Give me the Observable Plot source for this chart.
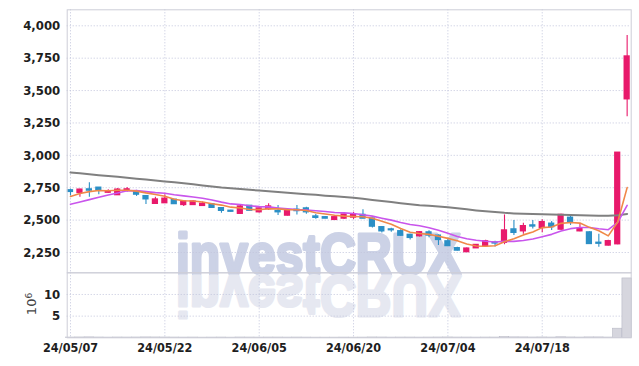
<!DOCTYPE html>
<html><head><meta charset="utf-8">
<script src="https://cdn.jsdelivr.net/npm/d3@7"></script>
<script src="https://cdn.jsdelivr.net/npm/@observablehq/plot@0.6"></script>
<style>
html,body{margin:0;padding:0;background:#fff;}
#wrap{position:relative;width:639px;height:366px;overflow:hidden;}
#wrap svg{position:absolute;left:0;top:0;}
</style></head><body><div id="wrap"></div>
<script>
const dates = ["24/05/07","24/05/08","24/05/09","24/05/10","24/05/13","24/05/14","24/05/16","24/05/17","24/05/20","24/05/21",
"24/05/22","24/05/23","24/05/24","24/05/27","24/05/28","24/05/29","24/05/30","24/05/31","24/06/03","24/06/04",
"24/06/05","24/06/07","24/06/10","24/06/11","24/06/12","24/06/13","24/06/14","24/06/17","24/06/18","24/06/19",
"24/06/20","24/06/21","24/06/24","24/06/25","24/06/26","24/06/27","24/06/28","24/07/01","24/07/02","24/07/03",
"24/07/04","24/07/05","24/07/08","24/07/09","24/07/10","24/07/11","24/07/12","24/07/15","24/07/16","24/07/17",
"24/07/18","24/07/19","24/07/22","24/07/23","24/07/24","24/07/25","24/07/26","24/07/29","24/07/30","24/07/31"];
const open = [2730,2710,2737,2750,2712,2693,2728,2722,2685,2626,
2631,2657,2617,2617,2610,2622,2592,2572,2549,2610,
2561,2585,2570,2535,2580,2590,2528,2522,2502,2512,
2520,2540,2512,2445,2428,2414,2386,2376,2405,2380,
2336,2283,2253,2283,2300,2327,2325,2428,2414,2459,
2440,2472,2427,2518,2414,2405,2325,2304,2314,3433];
const high = [2740,2738,2788,2752,2735,2745,2752,2730,2690,2676,
2695,2660,2648,2650,2640,2628,2595,2576,2612,2612,
2595,2626,2613,2580,2613,2600,2544,2526,2522,2548,
2560,2580,2515,2450,2437,2425,2390,2410,2418,2385,
2360,2290,2285,2312,2345,2336,2540,2497,2475,2497,
2503,2490,2545,2540,2472,2410,2390,2345,3020,3925];
const low = [2687,2676,2676,2695,2708,2690,2716,2683,2620,2624,
2628,2620,2605,2612,2608,2592,2553,2560,2546,2570,
2555,2574,2535,2532,2540,2545,2507,2510,2502,2505,
2505,2510,2440,2400,2406,2375,2347,2370,2363,2304,
2298,2262,2250,2280,2290,2292,2310,2381,2390,2432,
2402,2420,2420,2459,2410,2314,2290,2300,2310,3297];
const close = [2718,2735,2728,2730,2722,2735,2737,2697,2661,2659,
2665,2624,2643,2643,2626,2595,2572,2565,2605,2573,
2590,2605,2561,2574,2570,2561,2518,2512,2522,2543,
2543,2512,2450,2414,2422,2380,2363,2406,2381,2347,
2300,2265,2280,2308,2336,2320,2420,2402,2453,2451,
2484,2446,2540,2484,2433,2316,2318,2337,3020,3763];
// volume in millions of shares
const volume = [0.06,0.08,0.10,0.07,0.05,0.07,0.06,0.07,0.09,0.08,
0.07,0.06,0.05,0.06,0.04,0.05,0.06,0.04,0.07,0.06,
0.05,0.06,0.06,0.05,0.06,0.05,0.04,0.04,0.04,0.05,
0.04,0.05,0.08,0.07,0.05,0.06,0.06,0.05,0.06,0.07,
0.08,0.06,0.06,0.05,0.06,0.06,0.15,0.10,0.09,0.07,
0.08,0.06,0.12,0.08,0.06,0.09,0.09,0.06,2.1,13.7];
const ma5 = [2683,2705,2720,2728,2727,2730,2730,2724,2710,2698,
2684,2661,2650,2647,2640,2626,2616,2600,2593,2582,
2581,2588,2587,2581,2580,2574,2557,2547,2537,2531,
2528,2526,2514,2492,2468,2436,2406,2397,2390,2375,
2359,2340,2315,2300,2298,2302,2333,2357,2386,2409,
2442,2447,2475,2481,2477,2444,2418,2378,2485,2751];
const ma10 = [2622,2640,2658,2676,2694,2710,2726,2728,2720,2712,
2707,2696,2687,2679,2669,2655,2639,2625,2620,2611,
2604,2602,2594,2587,2581,2578,2572,2567,2559,2556,
2551,2542,2531,2515,2500,2482,2466,2456,2441,2422,
2398,2373,2356,2345,2337,2331,2336,2336,2343,2354,
2372,2390,2416,2434,2443,2443,2433,2426,2483,2614];
const maLong = [2868,2861,2854,2847,2840,2834,2827,2820,2813,2806,
2799,2792,2784,2776,2768,2760,2752,2746,2740,2734,
2728,2722,2717,2711,2706,2700,2695,2689,2684,2678,
2672,2664,2656,2648,2640,2631,2623,2615,2610,2605,
2599,2591,2583,2575,2568,2562,2556,2552,2549,2547,
2545,2543,2542,2540,2538,2536,2534,2533,2538,2548];
const priceTicks = [2250,2500,2750,3000,3250,3500,3750,4000];
const volTicks = [5,10];
const dateTickIdx = [0,10,20,30,40,50];

const rows = dates.map((d,i)=>({i, date:d, o:open[i], h:high[i], l:low[i], c:close[i], v:volume[i],
  ma5:ma5[i], ma10:ma10[i], maL:maLong[i]}));

const W=639, H=366, ML=66.7, MR=8.3;
const xDomain=[-0.35,59.43];
const UP="#e8196b", DOWN="#2b8fc6";
const grid = {stroke:"#c2c5dc", strokeOpacity:1, strokeDasharray:"1,2"};
const font = "'DejaVu Sans Condensed','DejaVu Sans',sans-serif";
const st = {background:"transparent", fontFamily:font, fontSize:"12.5px", fontWeight:"bold", color:"#1e1e1e", overflow:"visible"};
const col = d => d.c >= d.o ? UP : DOWN;

const vol = Plot.plot({
  width:W, height:H, marginTop:272.3, marginBottom:28.7, marginLeft:ML, marginRight:MR,
  style:st,
  x:{domain:xDomain, axis:null, label:null},
  y:{domain:[0,15], axis:null, label:null},
  marks:[
    Plot.ruleY(volTicks, grid),
    Plot.ruleX(dateTickIdx, grid),
    Plot.rect(rows,{x1:d=>d.i-0.5, x2:d=>d.i+0.5, y1:0, y2:"v", fill:"#d6d6de", stroke:"#b8b9c6", strokeWidth:0.6}),
    Plot.axisY(volTicks,{tickSize:0, tickPadding:7, label:null, fontSize:13}),
    Plot.axisX(dateTickIdx,{tickSize:0, tickPadding:5, tickFormat:i=>dates[i], label:null}),
    Plot.frame({stroke:"#cdced8"})
  ]
});

const price = Plot.plot({
  width:W, height:H, marginTop:9.3, marginBottom:93.7, marginLeft:ML, marginRight:MR,
  style:st,
  x:{domain:xDomain, axis:null, label:null},
  y:{domain:[2093.3,4123.5], axis:null, label:null},
  marks:[
    Plot.ruleY(priceTicks, grid),
    Plot.ruleX(dateTickIdx, grid),
    Plot.ruleX(rows,{x:"i", y1:"l", y2:"h", stroke:col, strokeWidth:1.1}),
    Plot.rect(rows,{x1:d=>d.i-0.33, x2:d=>d.i+0.33, y1:"o", y2:"c", fill:col, insetTop:-0.7, insetBottom:-0.7}),
    Plot.line(rows,{x:"i", y:"maL", stroke:"#808080", strokeWidth:2}),
    Plot.line(rows,{x:"i", y:"ma10", stroke:"#c955ec", strokeWidth:1.6}),
    Plot.line(rows,{x:"i", y:"ma5", stroke:"#f08848", strokeWidth:1.6}),
    Plot.axisY(priceTicks,{tickSize:0, tickPadding:7, tickFormat:d3.format(","), label:null, fontSize:13}),
    Plot.frame({stroke:"#cdced8"})
  ]
});

// watermark + unit label on the lower layer
const s = d3.select(vol);
const wm = s.insert("g", "g");
const wmStyle = "font-family:'Liberation Sans',Arial,sans-serif;font-weight:bold;font-size:58px;text-anchor:start;stroke-linejoin:round;";
wm.append("text").text("investCRUX")
  .attr("x",176).attr("y",274)
  .attr("style", wmStyle + "fill:#ccd2e6;stroke:#ccd2e6;stroke-width:3.2px;")
  .attr("textLength",285).attr("lengthAdjust","spacingAndGlyphs");
wm.append("text").text("investCRUX")
  .attr("x",176).attr("y",274)
  .attr("style", wmStyle + "fill:#e6e8f1;stroke:#e6e8f1;stroke-width:3.2px;")
  .attr("transform","translate(0,550) scale(1,-1)")
  .attr("textLength",285).attr("lengthAdjust","spacingAndGlyphs");
const u = s.append("text")
  .attr("transform","translate(36,304) rotate(-90)")
  .attr("style","font-family:'DejaVu Sans',sans-serif;font-weight:normal;font-size:13px;text-anchor:middle;")
  .attr("fill","#444");
u.append("tspan").text("10");
u.append("tspan").attr("dy","-0.5em").attr("font-size",9).text("6");

const wrap = document.getElementById("wrap");
wrap.appendChild(vol);
wrap.appendChild(price);
</script></body></html>
